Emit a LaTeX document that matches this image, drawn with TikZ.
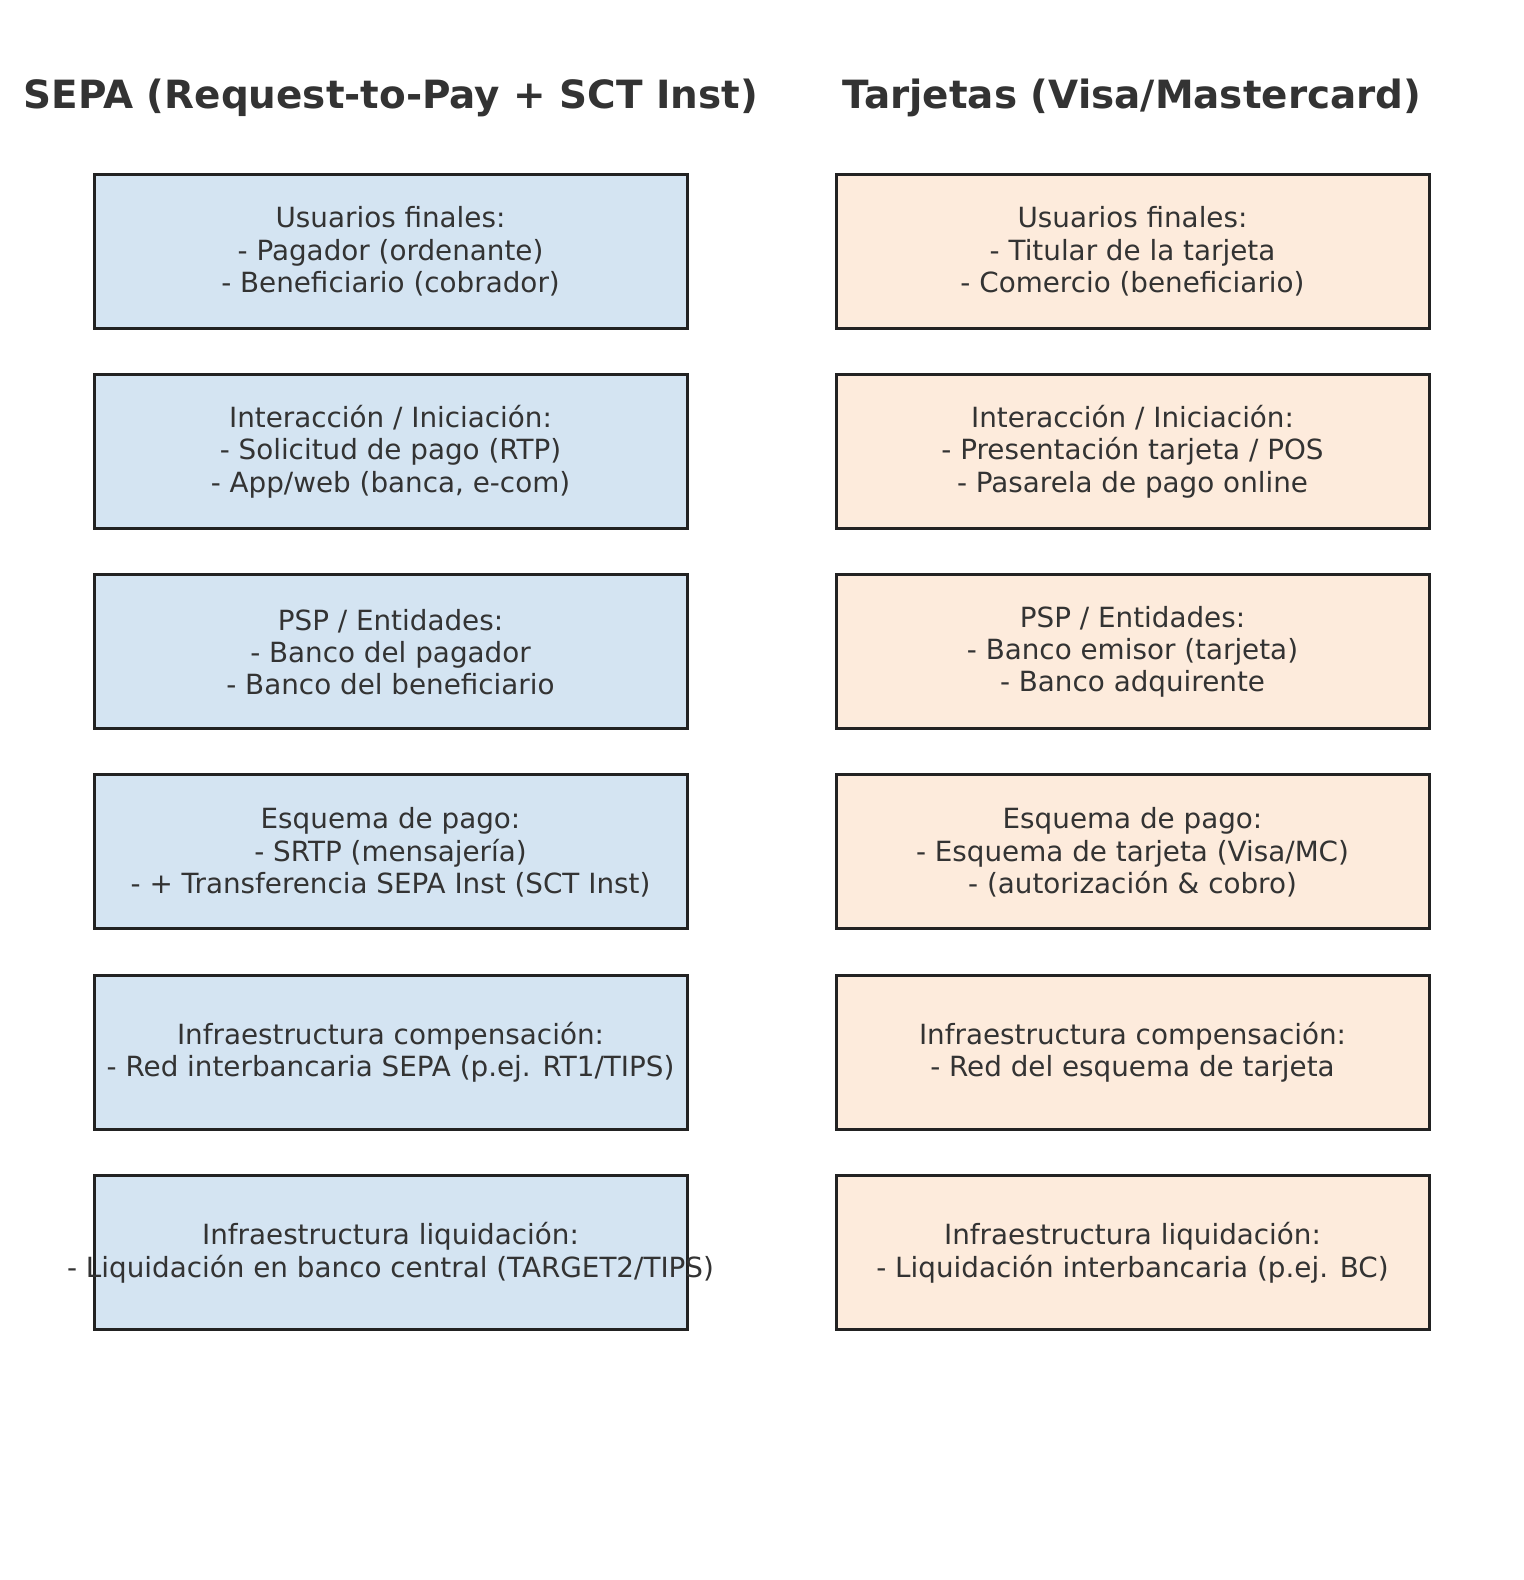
\documentclass[tikz,border=0pt]{standalone}
\usepackage{fontspec}
\setmainfont{DejaVu Sans}
\definecolor{txt}{HTML}{333333}
\definecolor{sepafill}{RGB}{212,228,242}
\definecolor{cardfill}{RGB}{253,235,220}
\definecolor{edge}{HTML}{222222}
\begin{document}
\begin{tikzpicture}[x=0.5pt,y=-0.5pt,
  boxbase/.style={draw=edge, line width=1.5pt, minimum width=296.5pt, minimum height=77pt, inner sep=0pt},
  sepabox/.style={boxbase, fill=sepafill},
  cardbox/.style={boxbase, fill=cardfill},
  boxtext/.style={text=txt, align=center, font=\fontsize{13.9}{16.15}\selectfont, inner sep=0pt},
  titletext/.style={text=txt, anchor=base, font=\fontsize{19.45}{23}\selectfont\bfseries, inner sep=0pt}]
\useasboundingbox (0,0) rectangle (1523,1580);
\node[titletext] (t1) at (391,108.5) {SEPA (Request-to-Pay + SCT Inst)};
\node[titletext] (t2) at (1132,108.5) {Tarjetas (Visa/Mastercard)};
% left column
\node[sepabox] (l1) at (390.5,251) {};
\node[sepabox] (l2) at (390.5,451.3) {};
\node[sepabox] (l3) at (390.5,651.6) {};
\node[sepabox] (l4) at (390.5,851.9) {};
\node[sepabox] (l5) at (390.5,1052.2) {};
\node[sepabox] (l6) at (390.5,1252.5) {};
\node[boxtext] (lt1) at ([yshift=-0.2pt]l1.center) {Usuarios finales:\\- Pagador (ordenante)\\- Beneficiario (cobrador)};
\node[boxtext] (lt2) at ([yshift=-0.2pt]l2.center) {Interacción / Iniciación:\\- Solicitud de pago (RTP)\\- App/web (banca, e-com)};
\node[boxtext] (lt3) at ([yshift=-0.2pt]l3.center) {PSP / Entidades:\\- Banco del pagador\\- Banco del beneficiario};
\node[boxtext] (lt4) at ([yshift=-0.2pt]l4.center) {Esquema de pago:\\- SRTP (mensajería)\\- + Transferencia SEPA Inst (SCT Inst)};
\node[boxtext] (lt5) at ([yshift=-0.2pt]l5.center) {Infraestructura compensación:\\- Red interbancaria SEPA (p.ej. RT1/TIPS)};
\node[boxtext] (lt6) at ([yshift=-0.2pt]l6.center) {Infraestructura liquidación:\\- Liquidación en banco central (TARGET2/TIPS)};
% right column
\node[cardbox] (r1) at (1132.5,251) {};
\node[cardbox] (r2) at (1132.5,451.3) {};
\node[cardbox] (r3) at (1132.5,651.6) {};
\node[cardbox] (r4) at (1132.5,851.9) {};
\node[cardbox] (r5) at (1132.5,1052.2) {};
\node[cardbox] (r6) at (1132.5,1252.5) {};
\node[boxtext] (rt1) at ([yshift=-0.2pt]r1.center) {Usuarios finales:\\- Titular de la tarjeta\\- Comercio (beneficiario)};
\node[boxtext] (rt2) at ([yshift=-0.2pt]r2.center) {Interacción / Iniciación:\\- Presentación tarjeta / POS\\- Pasarela de pago online};
\node[boxtext] (rt3) at ([yshift=-0.2pt]r3.center) {PSP / Entidades:\\- Banco emisor (tarjeta)\\- Banco adquirente};
\node[boxtext] (rt4) at ([yshift=-0.2pt]r4.center) {Esquema de pago:\\- Esquema de tarjeta (Visa/MC)\\- (autorización \& cobro)};
\node[boxtext] (rt5) at ([yshift=-0.2pt]r5.center) {Infraestructura compensación:\\- Red del esquema de tarjeta};
\node[boxtext] (rt6) at ([yshift=-0.2pt]r6.center) {Infraestructura liquidación:\\- Liquidación interbancaria (p.ej. BC)};
\end{tikzpicture}
\end{document}
